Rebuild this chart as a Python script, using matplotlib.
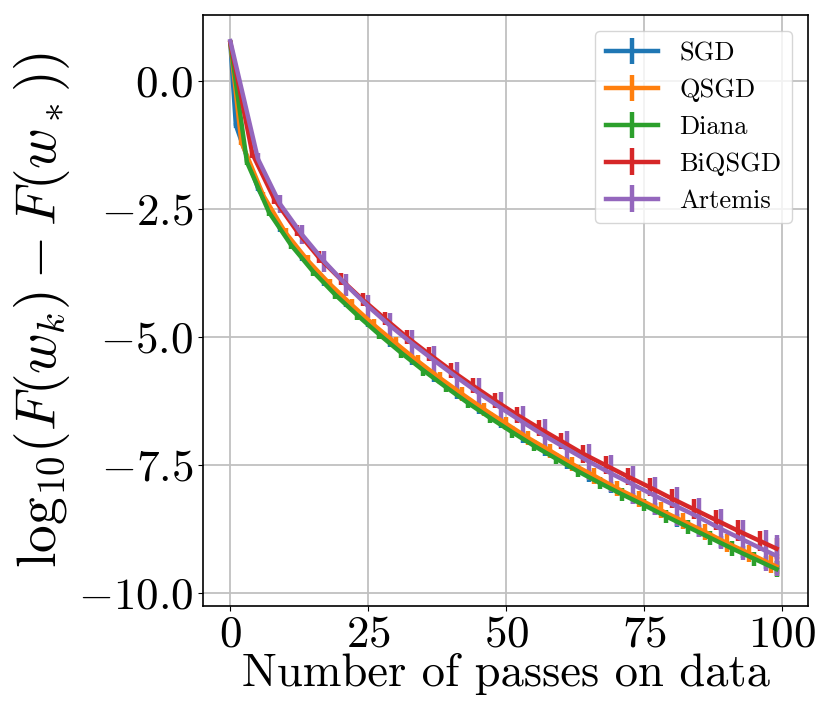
import matplotlib
matplotlib.use("Agg")
import matplotlib.pyplot as plt

plt.rcParams['font.family'] = 'serif'
plt.rcParams['font.serif'] = ['cmr10']
plt.rcParams['mathtext.fontset'] = 'cm'
plt.rcParams['axes.formatter.use_mathtext'] = True
plt.rcParams['axes.unicode_minus'] = True

labels = ["SGD", "QSGD", "Diana", "BiQSGD", "Artemis"]
colors = ["#1f77b4", "#ff7f0e", "#2ca02c", "#d62728", "#9467bd"]

# SGD
x_sgd = [0, 1, 5, 9, 13, 17, 21, 25, 29, 33, 37, 41, 45, 49, 53, 57, 61, 65, 69, 73, 77, 81, 85, 89, 93, 97, 99]
y_sgd = [0.75, -0.86, -2.09, -2.87, -3.44, -3.92, -4.34, -4.73, -5.10, -5.45, -5.78, -6.10, -6.40, -6.68,
         -6.96, -7.22, -7.47, -7.71, -7.93, -8.15, -8.36, -8.58, -8.79, -9.00, -9.20, -9.40, -9.50]
e_sgd = [0.0, 0.05, 0.06, 0.07, 0.07, 0.08, 0.08, 0.08, 0.09, 0.09, 0.09, 0.10, 0.10, 0.10,
         0.10, 0.10, 0.11, 0.11, 0.11, 0.11, 0.12, 0.12, 0.12, 0.12, 0.12, 0.13, 0.13]

# QSGD
x_qsgd = [0, 2, 6, 10, 14, 18, 22, 26, 30, 34, 38, 42, 46, 50, 54, 58, 62, 66, 70, 74, 78, 82, 86, 90, 94, 98, 99]
y_qsgd = [0.75, -1.19, -2.24, -2.96, -3.50, -3.96, -4.37, -4.76, -5.12, -5.47, -5.80, -6.11, -6.41, -6.69,
          -6.97, -7.22, -7.48, -7.71, -7.95, -8.16, -8.38, -8.59, -8.80, -9.02, -9.22, -9.43, -9.48]
e_qsgd = [0.0, 0.06, 0.08, 0.09, 0.10, 0.10, 0.11, 0.11, 0.12, 0.12, 0.12, 0.13, 0.13, 0.13,
          0.14, 0.14, 0.14, 0.15, 0.15, 0.15, 0.16, 0.16, 0.16, 0.17, 0.17, 0.18, 0.18]

# Diana
x_diana = [0, 3, 7, 11, 15, 19, 23, 27, 31, 35, 39, 43, 47, 51, 55, 59, 63, 67, 71, 75, 79, 83, 87, 91, 95, 99]
y_diana = [0.75, -1.58, -2.56, -3.20, -3.72, -4.17, -4.57, -4.95, -5.31, -5.65, -5.97, -6.28, -6.57, -6.85,
           -7.12, -7.37, -7.62, -7.85, -8.07, -8.28, -8.50, -8.71, -8.92, -9.13, -9.33, -9.53]
e_diana = [0.0, 0.06, 0.07, 0.08, 0.08, 0.09, 0.09, 0.09, 0.10, 0.10, 0.10, 0.10, 0.11, 0.11,
           0.11, 0.11, 0.12, 0.12, 0.12, 0.12, 0.13, 0.13, 0.13, 0.14, 0.14, 0.15]

# BiQSGD
x_biqsgd = [0, 4, 8, 12, 16, 20, 24, 28, 32, 36, 40, 44, 48, 52, 56, 60, 64, 68, 72, 76, 80, 84, 88, 92, 96, 99]
y_biqsgd = [0.75, -1.42, -2.31, -2.92, -3.44, -3.87, -4.27, -4.64, -5.00, -5.33, -5.65, -5.95, -6.24, -6.52,
            -6.78, -7.03, -7.28, -7.50, -7.72, -7.93, -8.15, -8.36, -8.57, -8.78, -8.98, -9.13]
e_biqsgd = [0.0, 0.08, 0.10, 0.11, 0.12, 0.12, 0.13, 0.13, 0.14, 0.14, 0.15, 0.15, 0.15, 0.16,
            0.16, 0.16, 0.17, 0.17, 0.17, 0.18, 0.18, 0.19, 0.19, 0.20, 0.20, 0.20]

# Artemis
x_artemis = [0, 1, 5, 9, 13, 17, 21, 25, 29, 33, 37, 41, 45, 49, 53, 57, 61, 65, 69, 73, 77, 81, 85, 89, 93, 97, 99]
y_artemis = [0.78, 0.32, -1.52, -2.40, -3.00, -3.52, -3.98, -4.40, -4.78, -5.13, -5.46, -5.78, -6.09, -6.38,
             -6.66, -6.93, -7.18, -7.43, -7.66, -7.88, -8.10, -8.31, -8.52, -8.75, -8.96, -9.17, -9.27]
e_artemis = [0.0, 0.0, 0.12, 0.17, 0.19, 0.21, 0.22, 0.23, 0.25, 0.26, 0.28, 0.29, 0.30, 0.31,
             0.32, 0.33, 0.34, 0.35, 0.36, 0.37, 0.37, 0.38, 0.38, 0.39, 0.39, 0.40, 0.40]

series = [
    (x_sgd, y_sgd, e_sgd),
    (x_qsgd, y_qsgd, e_qsgd),
    (x_diana, y_diana, e_diana),
    (x_biqsgd, y_biqsgd, e_biqsgd),
    (x_artemis, y_artemis, e_artemis),
]

fig = plt.figure(figsize=(8.30, 7.27), dpi=100)
ax = fig.add_axes([0.2446, 0.1664, 0.7289, 0.813])

for (xs, ys, es), lab, col in zip(series, labels, colors):
    ax.errorbar(xs, ys, yerr=es, label=lab, color=col, lw=3.2, elinewidth=3.2, capsize=0)

ax.set_xlim(-4.95, 104.7)
ax.set_ylim(-10.25, 1.29)
ax.set_xticks([0, 25, 50, 75, 100])
ax.set_yticks([0.0, -2.5, -5.0, -7.5, -10.0])
ax.grid(True, color="#c0c0c0", lw=1.3)
ax.set_axisbelow(True)
ax.tick_params(labelsize=32.5)
for s in ax.spines.values():
    s.set_color("black")
    s.set_linewidth(1.2)

ax.set_xlabel("Number of passes on data", fontsize=33.5, labelpad=-2)
ax.set_ylabel(r"$\mathrm{log}_{10}(F(w_k) - F(w_*))$", fontsize=40, labelpad=4)

ax.legend(loc="upper right", fontsize=19, framealpha=0.8, borderaxespad=0.6)

fig.savefig("out.png", dpi=100)
